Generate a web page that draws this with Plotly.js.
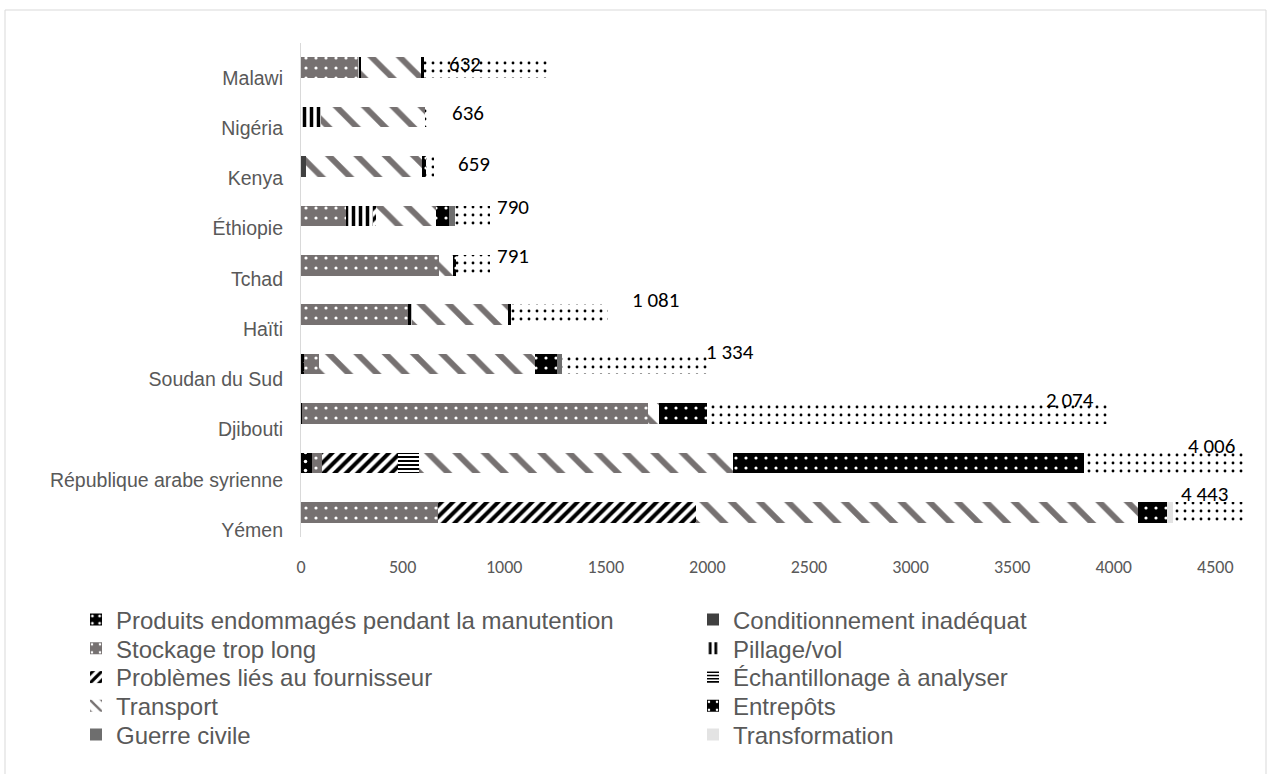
<!DOCTYPE html>
<html>
<head>
<meta charset="utf-8">
<script src="https://cdn.plot.ly/plotly-3.0.1.min.js"></script>
<style>html,body{margin:0;padding:0;background:#fff;} #chart{width:1271px;height:774px;}</style>
</head>
<body>
<div id="chart"></div>
<script>
// Categories, top to bottom
const countries = ["Malawi", "Nigéria", "Kenya", "Éthiopie", "Tchad", "Haïti", "Soudan du Sud", "Djibouti", "République arabe syrienne", "Yémen"];

// Series values
const produitsEndommages = [0, 0, 0, 0, 0, 0, 15, 5, 55, 0];
const conditionnement   = [0, 0, 25, 0, 0, 0, 0, 0, 0, 0];
const stockage          = [280, 0, 0, 222, 680, 527, 75, 1705, 50, 672];
const pillage           = [15, 100, 0, 133, 0, 20, 0, 0, 0, 0];
const fournisseur       = [0, 0, 0, 15, 0, 0, 0, 0, 370, 1270];
const echantillonage    = [0, 0, 0, 0, 0, 0, 0, 0, 108, 0];
const transport         = [295, 510, 570, 295, 69, 473, 1060, 50, 1545, 2175];
const entrepots         = [15, 0, 20, 64, 15, 15, 108, 240, 1727, 143];
const guerreCivile      = [0, 0, 0, 30, 0, 0, 25, 0, 0, 0];
const transformation    = [0, 0, 0, 0, 0, 0, 0, 0, 0, 30];
const pointille         = [610, 12, 40, 172, 167, 478, 728, 1983, 800, 400];

// Total labels
const totalLabels = ["632", "636", "659", "790", "791", "1 081", "1 334", "2 074", "4 006", "4 443"];
const labelX      = [807, 822, 851, 1043, 1043, 1747, 2111, 3784, 4483, 4449];
const labelShift  = [4, 4, 3, 9, 9, 15, 12, 14, 17, 18];

const xTicks = [0, 500, 1000, 1500, 2000, 2500, 3000, 3500, 4000, 4500];

const legendNames = ["legend", "legend2", "legend3", "legend4", "legend5", "legend6", "legend7", "legend8", "legend9", "legend10"];

function bar(name, vals, marker, idx, show) {
  return {
    type: 'bar', orientation: 'h', name: name, x: vals, y: countries,
    xaxis: 'x', yaxis: 'y',
    marker: Object.assign({line: {width: 0}}, marker),
    legend: legendNames[idx], showlegend: show !== false, hoverinfo: 'skip'
  };
}
const dots = (bg, fg, sz, sol) => ({shape: '.', bgcolor: bg, fgcolor: fg, size: sz, solidity: sol, fillmode: 'replace'});

const traces = [
  bar("Produits endommagés pendant la manutention", produitsEndommages, {color: '#000', pattern: dots('#000000', '#ffffff', 9, 0.12)}, 0),
  bar("Conditionnement inadéquat", conditionnement, {color: '#404040'}, 1),
  bar("Stockage trop long", stockage, {color: '#767171', pattern: dots('#767171', '#ffffff', 10, 0.08)}, 2),
  bar("Pillage/vol", pillage, {color: '#000', pattern: {shape: '|', fgcolor: '#000000', bgcolor: '#ffffff', size: 7, solidity: 0.5, fillmode: 'replace'}}, 3),
  bar("Problèmes liés au fournisseur", fournisseur, {color: '#000', pattern: {shape: '/', fgcolor: '#000000', bgcolor: '#ffffff', size: 8, solidity: 0.5, fillmode: 'replace'}}, 4),
  bar("Échantillonage à analyser", echantillonage, {color: '#000', pattern: {shape: '-', fgcolor: '#000000', bgcolor: '#ffffff', size: 4, solidity: 0.5, fillmode: 'replace'}}, 5),
  bar("Transport", transport, {color: '#767171', pattern: {shape: '\\', fgcolor: '#767171', bgcolor: '#ffffff', size: 20, solidity: 0.3, fillmode: 'replace'}}, 6),
  bar("Entrepôts", entrepots, {color: '#000', pattern: dots('#000000', '#ffffff', 10, 0.08)}, 7),
  bar("Guerre civile", guerreCivile, {color: '#6e6e6e'}, 8),
  bar("Transformation", transformation, {color: '#e3e3e3'}, 9),
  bar("", pointille, {color: '#fff', pattern: dots('#ffffff', '#000000', 8, 0.1)}, 0, false),
  // carrier for the category label axis
  {type: 'scatter', mode: 'markers', x: countries.map(() => 0), y: countries, xaxis: 'x', yaxis: 'y2',
   marker: {opacity: 0, size: 1}, showlegend: false, hoverinfo: 'skip'}
];

const annotations = countries.map((c, i) => ({
  x: labelX[i], y: c, xref: 'x', yref: 'y', text: totalLabels[i],
  showarrow: false, yshift: labelShift[i],
  font: {family: 'Carlito, "Liberation Sans", Arial, sans-serif', size: 21, color: '#000'}
}));

// plot area in pixels: top 43, bottom 560
const pTop = 43, pBot = 560, pH = pBot - pTop;
const py = v => (pBot - v) / pH;

const layout = {
  width: 1271, height: 774,
  paper_bgcolor: '#fff', plot_bgcolor: 'rgba(0,0,0,0)',
  margin: {l: 301, r: 26, t: pTop, b: 774 - pBot},
  barmode: 'stack', bargap: 0.58,
  font: {family: '"Liberation Sans", Arial, sans-serif', color: '#595959'},
  xaxis: {
    range: [0, 4646], tickvals: xTicks, ticktext: xTicks.map(String),
    showgrid: false, zeroline: false, showline: false, ticks: '',
    tickfont: {size: 18, color: '#595959', family: 'Carlito, "Liberation Sans Narrow", "Liberation Sans", sans-serif'},
    ticklabelstandoff: 17, anchor: 'y', fixedrange: true
  },
  yaxis: {
    type: 'category', categoryorder: 'array', categoryarray: countries, range: [9.5, -0.5],
    domain: [py(537), py(43)], showticklabels: false,
    showgrid: false, zeroline: false, showline: true, linecolor: '#d9d9d9', linewidth: 1, ticks: '',
    fixedrange: true
  },
  yaxis2: {
    type: 'category', categoryorder: 'array', categoryarray: countries, range: [9.5, -0.5],
    domain: [py(555.1), py(52.9)], anchor: 'free', position: 0,
    showgrid: false, zeroline: false, showline: false, ticks: '',
    tickfont: {size: 19.5, color: '#595959'}, ticklabelstandoff: 18, fixedrange: true
  },
  annotations: annotations,
  shapes: [{
    type: 'rect', xref: 'paper', yref: 'paper',
    x0: (5 - 301) / 944, x1: (1266 - 301) / 944,
    y0: py(790), y1: py(10),
    line: {color: '#d9d9d9', width: 1}, fillcolor: 'rgba(0,0,0,0)', layer: 'below'
  }],
  showlegend: true
};

// Legend layout: two columns, five rows
const rowY = [620, 648.75, 677.5, 706.25, 735];
const colX = [(76 - 301) / 944, (693 - 301) / 944];
legendNames.forEach((ln, i) => {
  layout[ln] = {
    x: colX[i % 2], xanchor: 'left', y: py(rowY[Math.floor(i / 2)]), yanchor: 'middle',
    orientation: 'v', font: {size: 24, color: '#595959'}, itemwidth: 30,
    bgcolor: 'rgba(0,0,0,0)', borderwidth: 0
  };
});

Plotly.newPlot('chart', traces, layout, {displayModeBar: false, staticPlot: true});
</script>
</body>
</html>
